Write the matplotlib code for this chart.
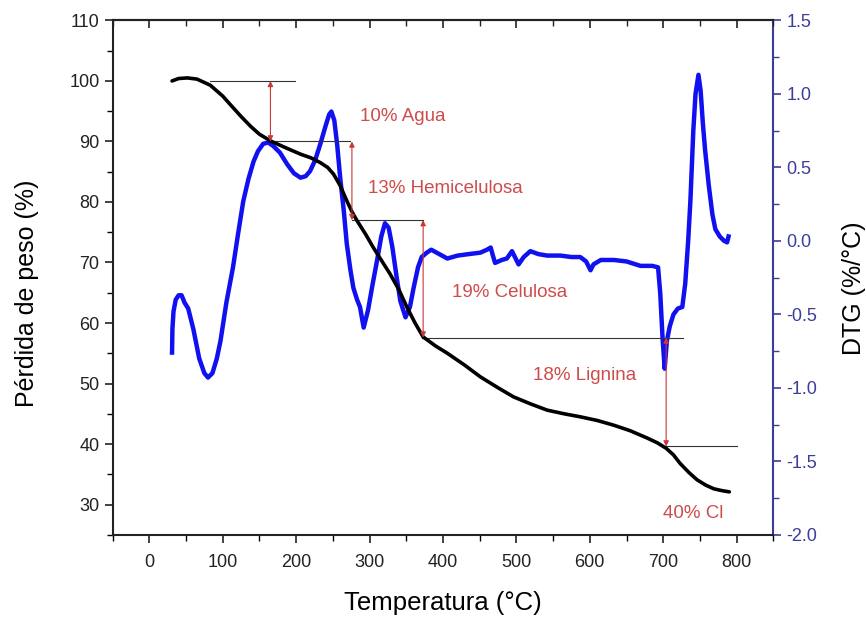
import matplotlib
matplotlib.use("Agg")
import matplotlib.pyplot as plt
from matplotlib.ticker import MultipleLocator

plt.rcParams['font.family'] = ['Liberation Sans', 'DejaVu Sans']

# ---- TGA (weight %) ----
tga_T = [31, 40, 52, 65, 83, 100, 114, 126, 138, 150, 165, 185, 206, 220, 233, 243,
         251, 260, 269, 276, 283, 295, 305, 317, 328, 340, 351, 362, 373, 390, 406,
         430, 451, 475, 496, 520, 542, 565, 587, 610, 633, 655, 678, 692, 704, 714,
         723, 735, 746, 758, 769, 780, 790]
tga_W = [100.0, 100.4, 100.5, 100.3, 99.3, 97.5, 95.6, 94.0, 92.5, 91.2, 90.1, 89.0,
         87.9, 87.3, 86.5, 85.7, 84.6, 82.7, 80.2, 78.4, 76.9, 74.6, 72.5, 70.2, 68.1,
         65.5, 62.6, 60.0, 57.7, 56.2, 55.0, 53.0, 51.1, 49.3, 47.8, 46.6, 45.6, 45.0,
         44.5, 43.9, 43.1, 42.2, 41.0, 40.2, 39.3, 38.2, 36.8, 35.3, 34.1, 33.2, 32.6,
         32.3, 32.1]

# ---- DTG (%/°C) ----
dtg_T = [31, 31.5, 33, 36, 40, 44, 48, 53, 60, 68, 75, 80, 86, 92, 97, 105, 114, 121,
         128, 135, 142, 148, 155, 162, 169, 178, 188, 197, 206, 213, 219, 226, 233, 240,
         245, 248, 252, 256, 260, 265, 269, 274, 278, 283, 287, 292, 298, 304, 310, 316,
         321, 326, 331, 337, 342, 349, 355, 360, 366, 371, 378, 384, 395, 406, 420, 435,
         451, 460, 465, 468, 471, 480, 487, 494, 499, 503, 510, 519, 530, 542, 560, 575,
         587, 595, 601, 605, 615, 633, 650, 669, 685, 693, 696, 699, 702, 705, 709, 714,
         720, 726, 730, 734, 737, 741, 744, 748, 751, 754, 757, 762, 767, 771, 777, 783,
         787, 789]
dtg_D = [-0.76, -0.60, -0.48, -0.40, -0.37, -0.37, -0.42, -0.46, -0.60, -0.80, -0.90,
         -0.93, -0.90, -0.80, -0.68, -0.42, -0.18, 0.05, 0.27, 0.42, 0.54, 0.61, 0.66,
         0.67, 0.645, 0.60, 0.52, 0.46, 0.43, 0.44, 0.475, 0.55, 0.66, 0.78, 0.86, 0.88,
         0.82, 0.65, 0.43, 0.20, -0.02, -0.20, -0.32, -0.40, -0.45, -0.59, -0.47, -0.30,
         -0.14, 0.03, 0.12, 0.09, -0.04, -0.25, -0.41, -0.52, -0.45, -0.32, -0.18, -0.11,
         -0.08, -0.06, -0.09, -0.12, -0.10, -0.09, -0.08, -0.06, -0.045, -0.10, -0.15,
         -0.13, -0.12, -0.07, -0.12, -0.16, -0.11, -0.07, -0.09, -0.10, -0.10, -0.11,
         -0.11, -0.14, -0.20, -0.16, -0.13, -0.13, -0.14, -0.17, -0.17, -0.18, -0.36,
         -0.65, -0.87, -0.68, -0.58, -0.50, -0.46, -0.45, -0.29, 0.00, 0.27, 0.75, 1.00,
         1.13, 1.02, 0.80, 0.62, 0.38, 0.18, 0.08, 0.03, 0.00, -0.01, 0.03]

# ---- stage annotations ----
stage_labels = ["10% Agua", "13% Hemicelulosa", "19% Celulosa", "18% Lignina", "40% Cl"]
stage_text_T = [287, 298, 412, 523, 700]
stage_text_W = [94.2, 82.3, 65.1, 51.4, 28.6]
level_W = [100.0, 90.0, 77.0, 57.6, 39.6]
level_T0 = [83, 165, 276, 371, 704]
level_T1 = [199, 274, 373, 727, 801]
arrow_T = [165, 276, 373, 704]

fig = plt.figure(figsize=(8.66, 6.19), dpi=100)
ax = fig.add_axes([0.130, 0.136, 0.763, 0.831])
ax2 = ax.twinx()

ax.plot(tga_T, tga_W, color='black', lw=2.6, solid_capstyle='round', zorder=3)
ax2.plot(dtg_T, dtg_D, color='#1010f0', lw=3.2, solid_joinstyle='round', zorder=2)
ax.set_zorder(ax2.get_zorder() + 1)
ax.patch.set_visible(False)

red = '#c83838'
for W, T0, T1 in zip(level_W, level_T0, level_T1):
    ax.plot([T0, T1], [W, W], color='#333333', lw=0.8, zorder=2)
for i, T in enumerate(arrow_T):
    ax.annotate('', xy=(T, level_W[i + 1]), xytext=(T, level_W[i]),
                arrowprops=dict(arrowstyle='<|-|>', color=red, lw=0.8,
                                mutation_scale=8, shrinkA=0, shrinkB=0), zorder=4)
for lab, T, W in zip(stage_labels, stage_text_T, stage_text_W):
    ax.text(T, W, lab, color=red, fontsize=13.5, ha='left', va='center', alpha=0.9)

ax.set_xlim(-50, 850)
ax.set_ylim(25, 110)
ax2.set_ylim(-2.0, 1.5)

ax.xaxis.set_major_locator(MultipleLocator(100))
ax.xaxis.set_minor_locator(MultipleLocator(50))
ax.yaxis.set_major_locator(MultipleLocator(10))
ax.yaxis.set_minor_locator(MultipleLocator(5))
ax2.set_yticks([1.5, 1.0, 0.5, 0.0, -0.5, -1.0, -1.5, -2.0])
ax2.set_yticklabels(['1.5', '1.0', '0.5', '0.0', '-0.5', '-1.0', '-1.5', '-2.0'])
ax2.yaxis.set_minor_locator(MultipleLocator(0.25))

ax.tick_params(axis='both', which='major', direction='out', length=6, width=1.2,
               labelsize=13, colors='#222222')
ax.tick_params(axis='both', which='minor', direction='out', length=4, width=1.0)
ax.tick_params(axis='x', which='major', pad=8)

# top axis: inward ticks, no labels
top = ax.secondary_xaxis('top')
top.xaxis.set_major_locator(MultipleLocator(100))
top.xaxis.set_minor_locator(MultipleLocator(50))
top.tick_params(axis='x', which='major', direction='in', length=6, width=1.2,
                labeltop=False, colors='#222222')
top.tick_params(axis='x', which='minor', direction='in', length=4, width=1.0,
                colors='#222222')
top.set_xticklabels([])
top.spines['top'].set_linewidth(1.5)
top.spines['top'].set_color('#222222')

blue_axis = '#3c3c9c'
ax2.tick_params(axis='y', which='major', direction='out', length=6, width=1.2,
                labelsize=13, colors=blue_axis)
ax2.tick_params(axis='y', which='minor', direction='out', length=4, width=1.0,
                colors=blue_axis)
ax2.spines['right'].set_color(blue_axis)
ax2.spines['right'].set_linewidth(1.5)
for s in ['left', 'bottom', 'top']:
    ax.spines[s].set_linewidth(1.5)
    ax.spines[s].set_color('#222222')
ax.spines['right'].set_visible(False)
ax2.spines['left'].set_visible(False)
ax2.spines['bottom'].set_visible(False)
ax2.spines['top'].set_visible(False)

ax.set_xlabel('Temperatura (°C)', fontsize=18.5, labelpad=14)
ax.set_ylabel('Pérdida de peso (%)', fontsize=18)
ax.yaxis.set_label_coords(-0.111, 0.47)
ax2.set_ylabel('DTG (%/°C)', fontsize=18)
ax2.yaxis.set_label_coords(1.104, 0.48)

fig.savefig('out.png', dpi=100)
